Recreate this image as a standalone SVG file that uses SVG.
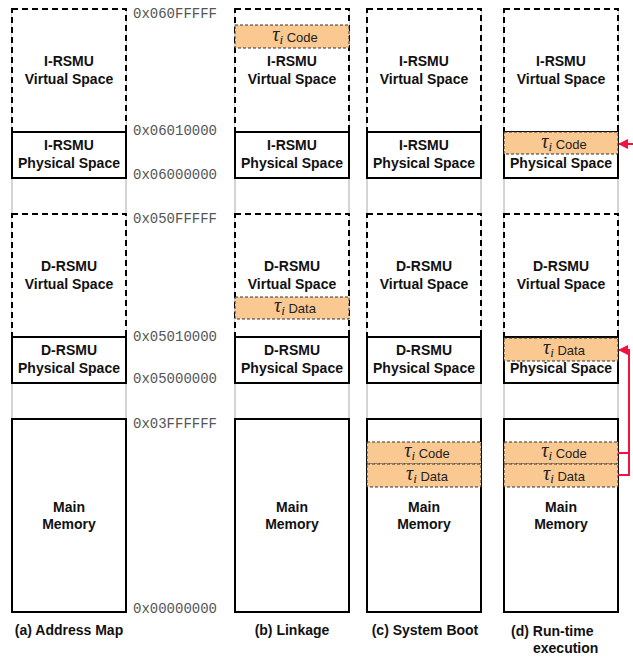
<svg xmlns="http://www.w3.org/2000/svg" width="633" height="658" viewBox="0 0 633 658">
<style>
.guide{stroke:#aaaaaa;stroke-width:1;fill:none}
.virt{fill:#fff;stroke:#000;stroke-width:2;stroke-dasharray:6 4}
.phys{fill:#fff;stroke:#000;stroke-width:2}
.lbl{font-family:"Liberation Sans",Arial,sans-serif;font-weight:bold;font-size:14px;fill:#111;text-anchor:middle}
.addr{font-family:"Liberation Mono","Courier New",monospace;font-size:14px;fill:#555}
.seg{fill:#FAC891;stroke:#333;stroke-width:1;stroke-dasharray:3 2}
.tau{font-family:"Liberation Serif","DejaVu Serif",serif;font-style:italic;font-size:20px;fill:#222}
.sub{font-family:"Liberation Serif","DejaVu Serif",serif;font-style:italic;font-size:13px;fill:#222}
.word{font-family:"Liberation Sans",Arial,sans-serif;font-size:13px;fill:#222}
.cap{font-family:"Liberation Sans",Arial,sans-serif;font-weight:bold;font-size:14px;fill:#111}
.red{stroke:#F2123F;stroke-width:2;fill:none}
</style>
<defs>
<marker id="ah" viewBox="0 0 10 10" refX="9" refY="5" markerWidth="5" markerHeight="5" orient="auto">
<path d="M0,0 L10,5 L0,10 z" fill="#F2123F"/>
</marker>
</defs>

<!-- column a -->
<g id="col-a">
<line class="guide" x1="12" y1="9" x2="12" y2="612"/>
<line class="guide" x1="126" y1="9" x2="126" y2="612"/>
<g id="a-irsmu-virtual"><rect class="virt" x="12" y="9" width="114" height="123"/>
<text class="lbl" x="69" y="66">I-RSMU</text><text class="lbl" x="69" y="84">Virtual Space</text></g>
<g id="a-irsmu-physical"><rect class="phys" x="12" y="132" width="114" height="46"/>
<text class="lbl" x="69" y="150">I-RSMU</text><text class="lbl" x="69" y="168">Physical Space</text></g>
<g id="a-drsmu-virtual"><rect class="virt" x="12" y="214" width="114" height="123"/>
<text class="lbl" x="69" y="271">D-RSMU</text><text class="lbl" x="69" y="289">Virtual Space</text></g>
<g id="a-drsmu-physical"><rect class="phys" x="12" y="337" width="114" height="46"/>
<text class="lbl" x="69" y="355">D-RSMU</text><text class="lbl" x="69" y="373">Physical Space</text></g>
<g id="a-main"><rect class="phys" x="12" y="419" width="114" height="193"/>
<text class="lbl" x="69" y="512">Main</text><text class="lbl" x="69" y="529">Memory</text></g>
</g>

<g id="addresses">
<text class="addr" x="133" y="18">0x060FFFFF</text>
<text class="addr" x="133" y="135">0x06010000</text>
<text class="addr" x="133" y="179">0x06000000</text>
<text class="addr" x="133" y="223">0x050FFFFF</text>
<text class="addr" x="133" y="341">0x05010000</text>
<text class="addr" x="133" y="383">0x05000000</text>
<text class="addr" x="133" y="428">0x03FFFFFF</text>
<text class="addr" x="133" y="613">0x00000000</text>
</g>

<!-- column b -->
<g id="col-b">
<line class="guide" x1="235" y1="9" x2="235" y2="612"/>
<line class="guide" x1="349" y1="9" x2="349" y2="612"/>
<g id="b-irsmu-virtual"><rect class="virt" x="235" y="9" width="114" height="123"/>
<text class="lbl" x="292" y="66">I-RSMU</text><text class="lbl" x="292" y="84">Virtual Space</text></g>
<g id="b-code"><rect class="seg" x="235" y="25" width="114" height="23"/>
<text x="295" y="41" text-anchor="middle"><tspan class="tau">τ</tspan><tspan class="sub" dy="3">i</tspan><tspan class="word" dy="-2"> Code</tspan></text></g>
<g id="b-irsmu-physical"><rect class="phys" x="235" y="132" width="114" height="46"/>
<text class="lbl" x="292" y="150">I-RSMU</text><text class="lbl" x="292" y="168">Physical Space</text></g>
<g id="b-drsmu-virtual"><rect class="virt" x="235" y="214" width="114" height="123"/>
<text class="lbl" x="292" y="271">D-RSMU</text><text class="lbl" x="292" y="289">Virtual Space</text></g>
<g id="b-data"><rect class="seg" x="235" y="297" width="114" height="22"/>
<text x="295" y="312" text-anchor="middle"><tspan class="tau">τ</tspan><tspan class="sub" dy="3">i</tspan><tspan class="word" dy="-2"> Data</tspan></text></g>
<g id="b-drsmu-physical"><rect class="phys" x="235" y="337" width="114" height="46"/>
<text class="lbl" x="292" y="355">D-RSMU</text><text class="lbl" x="292" y="373">Physical Space</text></g>
<g id="b-main"><rect class="phys" x="235" y="419" width="114" height="193"/>
<text class="lbl" x="292" y="512">Main</text><text class="lbl" x="292" y="529">Memory</text></g>
</g>

<!-- column c -->
<g id="col-c">
<line class="guide" x1="367" y1="9" x2="367" y2="612"/>
<line class="guide" x1="481" y1="9" x2="481" y2="612"/>
<g id="c-irsmu-virtual"><rect class="virt" x="367" y="9" width="114" height="123"/>
<text class="lbl" x="424" y="66">I-RSMU</text><text class="lbl" x="424" y="84">Virtual Space</text></g>
<g id="c-irsmu-physical"><rect class="phys" x="367" y="132" width="114" height="46"/>
<text class="lbl" x="424" y="150">I-RSMU</text><text class="lbl" x="424" y="168">Physical Space</text></g>
<g id="c-drsmu-virtual"><rect class="virt" x="367" y="214" width="114" height="123"/>
<text class="lbl" x="424" y="271">D-RSMU</text><text class="lbl" x="424" y="289">Virtual Space</text></g>
<g id="c-drsmu-physical"><rect class="phys" x="367" y="337" width="114" height="46"/>
<text class="lbl" x="424" y="355">D-RSMU</text><text class="lbl" x="424" y="373">Physical Space</text></g>
<g id="c-main"><rect class="phys" x="367" y="419" width="114" height="193"/>
<text class="lbl" x="424" y="512">Main</text><text class="lbl" x="424" y="529">Memory</text></g>
<g id="c-code"><rect class="seg" x="367" y="442" width="114" height="22"/>
<text x="427" y="457" text-anchor="middle"><tspan class="tau">τ</tspan><tspan class="sub" dy="3">i</tspan><tspan class="word" dy="-2"> Code</tspan></text></g>
<g id="c-data"><rect class="seg" x="367" y="464" width="114" height="23"/>
<text x="427" y="480" text-anchor="middle"><tspan class="tau">τ</tspan><tspan class="sub" dy="3">i</tspan><tspan class="word" dy="-2"> Data</tspan></text></g>
</g>

<!-- column d -->
<g id="col-d">
<line class="guide" x1="504" y1="9" x2="504" y2="612"/>
<line class="guide" x1="618" y1="9" x2="618" y2="612"/>
<g id="d-irsmu-virtual"><rect class="virt" x="504" y="9" width="114" height="123"/>
<text class="lbl" x="561" y="66">I-RSMU</text><text class="lbl" x="561" y="84">Virtual Space</text></g>
<g id="d-irsmu-physical"><rect class="phys" x="504" y="132" width="114" height="46"/>
<text class="lbl" x="561" y="168">Physical Space</text></g>
<g id="d-code-mapped"><rect class="seg" x="504" y="132" width="114" height="22"/>
<text x="564" y="148" text-anchor="middle"><tspan class="tau">τ</tspan><tspan class="sub" dy="3">i</tspan><tspan class="word" dy="-2"> Code</tspan></text></g>
<g id="d-drsmu-virtual"><rect class="virt" x="504" y="214" width="114" height="123"/>
<text class="lbl" x="561" y="271">D-RSMU</text><text class="lbl" x="561" y="289">Virtual Space</text></g>
<g id="d-drsmu-physical"><rect class="phys" x="504" y="337" width="114" height="46"/>
<text class="lbl" x="561" y="373">Physical Space</text></g>
<g id="d-data-mapped"><rect class="seg" x="504" y="338" width="114" height="23"/>
<text x="564" y="354" text-anchor="middle"><tspan class="tau">τ</tspan><tspan class="sub" dy="3">i</tspan><tspan class="word" dy="-2"> Data</tspan></text></g>
<g id="d-main"><rect class="phys" x="504" y="419" width="114" height="193"/>
<text class="lbl" x="561" y="512">Main</text><text class="lbl" x="561" y="529">Memory</text></g>
<g id="d-code"><rect class="seg" x="504" y="442" width="114" height="22"/>
<text x="564" y="457" text-anchor="middle"><tspan class="tau">τ</tspan><tspan class="sub" dy="3">i</tspan><tspan class="word" dy="-2"> Code</tspan></text></g>
<g id="d-data"><rect class="seg" x="504" y="464" width="114" height="23"/>
<text x="564" y="480" text-anchor="middle"><tspan class="tau">τ</tspan><tspan class="sub" dy="3">i</tspan><tspan class="word" dy="-2"> Data</tspan></text></g>
</g>

<g id="connectors">
<line class="red" x1="633" y1="144" x2="619" y2="144" marker-end="url(#ah)"/>
<path class="red" d="M618,453 H629 V350 H619" marker-end="url(#ah)"/>
<path class="red" d="M618,475 H629 V452"/>
</g>

<g id="captions">
<text class="cap" x="69" y="635" text-anchor="middle">(a) Address Map</text>
<text class="cap" x="292" y="635" text-anchor="middle">(b) Linkage</text>
<text class="cap" x="425" y="635" text-anchor="middle">(c) System Boot</text>
<text class="cap" x="511" y="636">(d) Run-time</text>
<text class="cap" x="533" y="653">execution</text>
</g>
</svg>
